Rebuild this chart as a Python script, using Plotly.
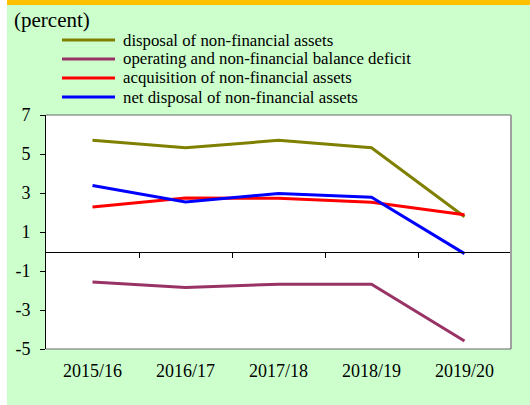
import plotly.graph_objects as go

categories = ["2015/16", "2016/17", "2017/18", "2018/19", "2019/20"]
series_names = [
    "disposal of non-financial assets",
    "operating and non-financial balance deficit",
    "acquisition of non-financial assets",
    "net disposal of non-financial assets",
]
disposal = [5.70, 5.32, 5.70, 5.32, 1.78]
deficit = [-1.56, -1.84, -1.68, -1.68, -4.59]
acquisition = [2.28, 2.74, 2.73, 2.52, 1.89]
net_disposal = [3.39, 2.54, 2.98, 2.78, -0.11]
y_ticks = [7, 5, 3, 1, -1, -3, -5]
y_tick_labels = ["7", "5", "3", "1", "-1", "-3", "-5"]
colors = ["#808000", "#993366", "#FF0000", "#0000FF"]
unit_label = "(percent)"

values = [disposal, deficit, acquisition, net_disposal]
FONT = "'Liberation Serif', 'Times New Roman', Times, 'DejaVu Serif', serif"

W, H = 530, 405
L, R, T, B = 46, 19, 115, 56
pw, ph = W - L - R, H - T - B

def fx(px):
    return (px - L) / pw

def fy(py):
    return (H - B - py) / ph

xs = list(range(len(categories)))
fig = go.Figure()
for name, vals, col in zip(series_names, values, colors):
    fig.add_trace(go.Scatter(x=xs, y=vals, mode="lines", name=name,
                             line=dict(color=col, width=3), showlegend=False,
                             hoverinfo="skip"))
fig.add_trace(go.Scatter(x=[0], y=[0], xaxis="x2", yaxis="y", mode="markers",
                         marker=dict(opacity=0), showlegend=False, hoverinfo="skip"))

shapes = []
shapes.append(dict(type="rect", xref="paper", yref="paper", x0=fx(0), x1=fx(7),
                   y0=fy(H), y1=fy(0), fillcolor="white", line=dict(width=0), layer="below"))
shapes.append(dict(type="rect", xref="paper", yref="paper", x0=fx(7), x1=fx(W),
                   y0=fy(5), y1=fy(0), fillcolor="#FFC000", line=dict(width=0), layer="below"))
shapes.append(dict(type="line", xref="paper", yref="paper", x0=0, x1=1, y0=1, y1=1,
                   line=dict(color="#666666", width=1)))
shapes.append(dict(type="line", xref="paper", yref="paper", x0=1, x1=1, y0=0, y1=1,
                   line=dict(color="#A0A0A0", width=2)))
shapes.append(dict(type="line", xref="paper", yref="paper", x0=0, x1=1, y0=0, y1=0,
                   line=dict(color="#666666", width=1)))

annotations = [dict(text=unit_label, xref="paper", yref="paper", x=fx(12), y=fy(20),
                    xanchor="left", yanchor="middle", showarrow=False,
                    font=dict(family=FONT, size=21, color="black"))]
leg_y = [40, 59, 78, 97]
for name, col, yy in zip(series_names, colors, leg_y):
    shapes.append(dict(type="line", xref="paper", yref="paper", x0=fx(62), x1=fx(115),
                       y0=fy(yy), y1=fy(yy), line=dict(color=col, width=3)))
    annotations.append(dict(text=name, xref="paper", yref="paper", x=fx(121), y=fy(yy),
                            xanchor="left", yanchor="middle", showarrow=False,
                            font=dict(family=FONT, size=16.8, color="black")))

fig.update_layout(
    width=W, height=H,
    margin=dict(l=L, r=R, t=T, b=B, pad=0),
    paper_bgcolor="#CCFFCC", plot_bgcolor="white",
    font=dict(family=FONT, size=18, color="black"),
    shapes=shapes, annotations=annotations,
    xaxis=dict(range=[-0.5, 4.5], tickvals=xs, ticktext=categories, ticks="",
               showline=False, showgrid=False, zeroline=False, fixedrange=True,
               ticklabelstandoff=9),
    xaxis2=dict(range=[-0.5, 4.5], overlaying="x", anchor="free", position=5 / 12,
                side="bottom", tickvals=[0.5, 1.5, 2.5, 3.5], ticks="outside",
                ticklen=5, tickcolor="black", tickwidth=1, showline=True,
                linecolor="black", linewidth=1, showticklabels=False,
                showgrid=False, zeroline=False),
    yaxis=dict(range=[-5, 7], tickvals=y_ticks, ticktext=y_tick_labels,
               ticks="outside", ticklen=5, fixedrange=True,
               tickcolor="black", showline=True, linecolor="black", linewidth=1,
               showgrid=False, zeroline=False, ticklabelstandoff=6),
)
fig.write_html("out.html", config={"displayModeBar": False},
               post_script="document.body.style.margin='0';")
